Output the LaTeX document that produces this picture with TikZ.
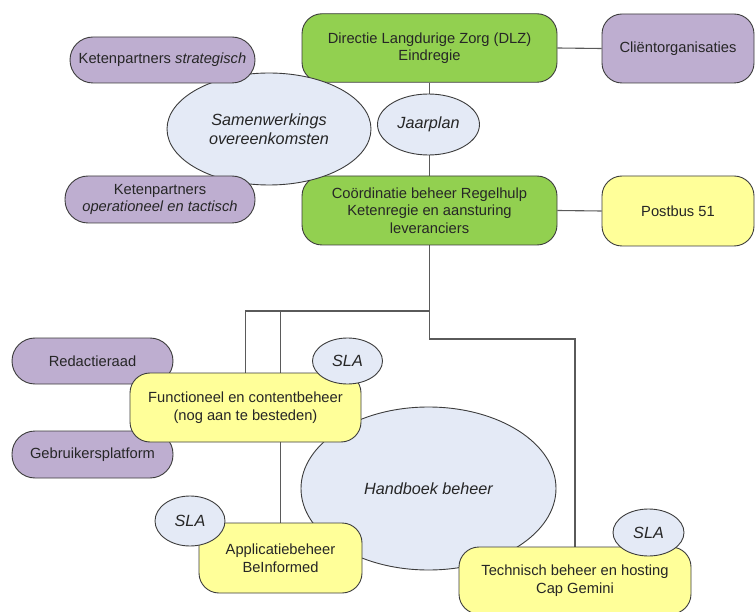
\documentclass[tikz,border=0pt]{standalone}
\usepackage{fontspec}
\setmainfont{Liberation Sans}
\usetikzlibrary{shapes.geometric,backgrounds}
\definecolor{vgreen}{RGB}{146,208,80}
\definecolor{vpurple}{RGB}{190,174,208}
\definecolor{vyellow}{RGB}{255,255,153}
\definecolor{vblue}{RGB}{228,234,246}
\definecolor{vborder}{RGB}{60,60,60}
\definecolor{vline}{RGB}{90,90,90}
\tikzset{
  base/.style={draw=vborder, line width=0.9pt, align=center, inner sep=0pt,
    font=\fontsize{14.7}{17.5}\selectfont, text=black!85},
  box/.style={base, rectangle, rounded corners=20pt},
  greenbox/.style={box, fill=vgreen},
  yellowbox/.style={box, fill=vyellow},
  purplebox/.style={box, fill=vpurple},
  pill/.style={base, rectangle, rounded corners=23pt, fill=vpurple},
  oval/.style={base, ellipse, fill=vblue, font=\fontsize{16.2}{18.5}\selectfont\itshape},
  conn/.style={draw=vline, line width=1.1pt},
}
\begin{document}
\begin{tikzpicture}[x=1pt,y=-1pt]
\useasboundingbox (0,0) rectangle (755,612);
\clip (0,0) rectangle (755,612);

% Handboek ellipse (behind lower boxes)
\node[oval, minimum width=255pt, minimum height=163pt] (hand) at (428.5,488.5) {Handboek beheer};

% green boxes
\node[greenbox, minimum width=255pt, minimum height=68.5pt] (dlz) at (429.5,48) {Directie Langdurige Zorg (DLZ)\\Eindregie};
\node[greenbox, minimum width=255pt, minimum height=69pt] (coord) at (429.5,210.5) {Coördinatie beheer Regelhulp\\Ketenregie en aansturing\\leveranciers};

% Samenwerkings ellipse
\node[oval, minimum width=204pt, minimum height=112pt] (samen) at (269,129) {Samenwerkings\\overeenkomsten};

% purple and yellow right/left boxes
\node[purplebox, minimum width=152pt, minimum height=69pt] (client) at (678,48.5) {Cliëntorganisaties};
\node[yellowbox, minimum width=152pt, minimum height=70pt] (postbus) at (678,211) {Postbus 51};
\node[pill, minimum width=185pt, minimum height=46pt] (strat) at (162.5,60) {Ketenpartners \textit{strategisch}};
\node[pill, minimum width=190pt, minimum height=47pt] (oper) at (160,199.5) {Ketenpartners\\\textit{operationeel en tactisch}};
\node[pill, minimum width=161pt, minimum height=46pt] (redact) at (92.5,361) {Redactieraad};
\node[pill, minimum width=161pt, minimum height=47pt] (gebr) at (92.5,454.5) {Gebruikersplatform};

% yellow lower boxes
\node[yellowbox, minimum width=231pt, minimum height=69pt] (func) at (245.5,407.5) {Functioneel en contentbeheer\\(nog aan te besteden)};
\node[yellowbox, minimum width=163pt, minimum height=70pt] (appl) at (280.5,558) {Applicatiebeheer\\BeInformed};
\node[yellowbox, minimum width=232pt, minimum height=67pt] (tech) at (575,580.5) {Technisch beheer en hosting\\Cap Gemini};

% small ovals
\node[oval, minimum width=102pt, minimum height=61pt] (jaar) at (428.5,124.5) {Jaarplan};
\node[oval, minimum width=70pt, minimum height=46pt] (sla1) at (347.5,361) {SLA};
\node[oval, minimum width=70pt, minimum height=50pt] (sla2) at (190,521) {SLA};
\node[oval, minimum width=71pt, minimum height=47pt] (sla3) at (648.5,532.5) {SLA};

% junction points
\coordinate (j1) at (429.5,339);
\coordinate (j2) at (429.5,311);
\coordinate (j3) at (280.5,311);

% connectors
\begin{scope}[on background layer]
\draw[conn] (dlz.east) -- (client.west);
\draw[conn] (coord.east) -- (postbus.west);
\draw[conn] (dlz.south) -- (coord.north);
\draw[conn] (coord.south) -- (j1) -| (tech.north);
\draw[conn] (j2) -| (func.north);
\draw[conn] (j3) -- (appl.north);
\end{scope}
\end{tikzpicture}
\end{document}
